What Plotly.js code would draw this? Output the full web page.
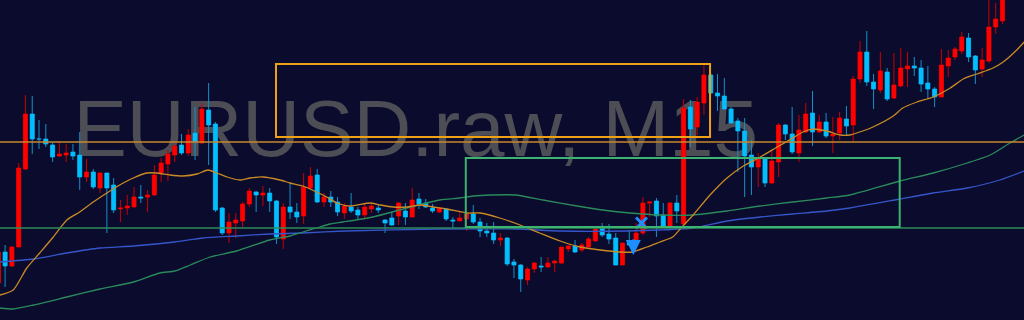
<!DOCTYPE html>
<html><head><meta charset="utf-8">
<script src="https://cdn.plot.ly/plotly-3.0.1.min.js"></script>
<style>html,body{margin:0;padding:0;background:#0b0b2d;}#chart{width:1024px;height:320px;}</style>
</head><body><div id="chart"></div>
<script>
const watermark = 'EURUSD.raw, M15';

const open = [
1.08037,1.08068,1.08054,1.08073,1.08151,1.08206,1.08181,1.08181,1.08175,1.08164,
1.08165,1.08168,1.08165,1.08143,1.08148,1.08132,1.08147,1.08135,1.08111,1.08112,
1.08113,1.08123,1.08123,1.08125,1.08147,1.08156,1.08165,1.08175,1.08167,1.08187,
1.08177,1.08210,1.08196,1.08112,1.08087,1.08097,1.08099,1.08116,1.08128,1.08125,
1.08127,1.08119,1.08081,1.08113,1.08108,1.08104,1.08132,1.08145,1.08118,1.08123,
1.08118,1.08107,1.08113,1.08110,1.08105,1.08111,1.08112,1.08100,1.08102,1.08104,
1.08109,1.08103,1.08121,1.08117,1.08112,1.08108,1.08111,1.08100,1.08099,1.08101,
1.08106,1.08098,1.08089,1.08087,1.08080,1.08082,1.08058,1.08055,1.08040,1.08051,
1.08054,1.08053,1.08057,1.08057,1.08071,1.08074,1.08070,1.08073,1.08079,1.08092,
1.08086,1.08082,1.08055,1.08079,1.08078,1.08087,1.08117,1.08119,1.08105,1.08094,
1.08117,1.08096,1.08213,1.08193,1.08217,1.08245,1.08227,1.08224,1.08211,1.08199,
1.08189,1.08165,1.08153,1.08161,1.08137,1.08158,1.08195,1.08186,1.08167,1.08188,
1.08207,1.08188,1.08198,1.08184,1.08187,1.08201,1.08195,1.08241,1.08268,1.08238,
1.08230,1.08248,1.08222,1.08234,1.08251,1.08254,1.08252,1.08237,1.08231,1.08223,
1.08254,1.08263,1.08269,1.08282,1.08264,1.08251,1.08259,1.08293,1.08299];

const high = [
1.08070,1.08075,1.08074,1.08157,1.08225,1.08224,1.08200,1.08196,1.08177,1.08178,
1.08176,1.08176,1.08188,1.08161,1.08151,1.08148,1.08147,1.08142,1.08120,1.08125,
1.08133,1.08135,1.08130,1.08155,1.08162,1.08170,1.08175,1.08186,1.08191,1.08213,
1.08217,1.08237,1.08198,1.08113,1.08107,1.08107,1.08118,1.08132,1.08129,1.08134,
1.08132,1.08120,1.08117,1.08137,1.08117,1.08147,1.08153,1.08151,1.08127,1.08129,
1.08123,1.08117,1.08127,1.08113,1.08117,1.08117,1.08115,1.08101,1.08108,1.08118,
1.08117,1.08132,1.08127,1.08121,1.08116,1.08113,1.08112,1.08103,1.08108,1.08108,
1.08115,1.08102,1.08097,1.08098,1.08087,1.08083,1.08061,1.08056,1.08053,1.08058,
1.08063,1.08063,1.08060,1.08073,1.08075,1.08080,1.08077,1.08083,1.08093,1.08097,
1.08096,1.08087,1.08077,1.08090,1.08097,1.08123,1.08119,1.08122,1.08117,1.08118,
1.08125,1.08221,1.08220,1.08223,1.08255,1.08247,1.08246,1.08242,1.08213,1.08202,
1.08202,1.08180,1.08167,1.08162,1.08171,1.08197,1.08196,1.08213,1.08205,1.08217,
1.08229,1.08205,1.08207,1.08203,1.08208,1.08214,1.08244,1.08279,1.08289,1.08246,
1.08268,1.08252,1.08267,1.08272,1.08268,1.08263,1.08260,1.08254,1.08233,1.08271,
1.08270,1.08273,1.08288,1.08287,1.08265,1.08272,1.08325,1.08317,1.08330];

const low = [
1.08032,1.08033,1.08053,1.08073,1.08150,1.08166,1.08171,1.08173,1.08158,1.08163,
1.08158,1.08160,1.08130,1.08138,1.08131,1.08127,1.08087,1.08107,1.08098,1.08105,
1.08113,1.08117,1.08108,1.08124,1.08138,1.08139,1.08158,1.08165,1.08164,1.08160,
1.08176,1.08155,1.08108,1.08085,1.08077,1.08082,1.08093,1.08113,1.08108,1.08114,
1.08108,1.08076,1.08071,1.08101,1.08097,1.08096,1.08130,1.08117,1.08113,1.08113,
1.08104,1.08101,1.08107,1.08101,1.08101,1.08107,1.08107,1.08087,1.08094,1.08095,
1.08095,1.08103,1.08111,1.08112,1.08107,1.08107,1.08099,1.08092,1.08099,1.08089,
1.08096,1.08083,1.08083,1.08076,1.08074,1.08054,1.08042,1.08028,1.08035,1.08047,
1.08048,1.08052,1.08048,1.08056,1.08068,1.08067,1.08068,1.08072,1.08078,1.08083,
1.08076,1.08055,1.08055,1.08075,1.08078,1.08085,1.08103,1.08083,1.08093,1.08093,
1.08097,1.08094,1.08173,1.08185,1.08205,1.08226,1.08209,1.08210,1.08196,1.08148,
1.08123,1.08125,1.08133,1.08133,1.08136,1.08143,1.08180,1.08166,1.08158,1.08187,
1.08174,1.08187,1.08182,1.08167,1.08180,1.08185,1.08178,1.08237,1.08234,1.08211,
1.08227,1.08219,1.08221,1.08233,1.08233,1.08244,1.08228,1.08221,1.08213,1.08223,
1.08243,1.08260,1.08266,1.08258,1.08236,1.08243,1.08257,1.08286,1.08296];

const close = [
1.08068,1.08054,1.08073,1.08152,1.08206,1.08181,1.08181,1.08176,1.08163,1.08166,
1.08167,1.08164,1.08143,1.08148,1.08133,1.08147,1.08132,1.08110,1.08112,1.08114,
1.08123,1.08122,1.08125,1.08145,1.08157,1.08166,1.08174,1.08167,1.08185,1.08178,
1.08211,1.08195,1.08110,1.08087,1.08098,1.08100,1.08116,1.08129,1.08125,1.08127,
1.08119,1.08083,1.08113,1.08108,1.08103,1.08133,1.08144,1.08118,1.08123,1.08118,
1.08108,1.08114,1.08109,1.08105,1.08113,1.08114,1.08110,1.08097,1.08095,1.08117,
1.08103,1.08120,1.08116,1.08113,1.08109,1.08112,1.08101,1.08099,1.08102,1.08106,
1.08098,1.08089,1.08087,1.08080,1.08082,1.08056,1.08055,1.08041,1.08051,1.08057,
1.08053,1.08057,1.08059,1.08073,1.08074,1.08068,1.08075,1.08081,1.08091,1.08085,
1.08081,1.08055,1.08077,1.08075,1.08087,1.08117,1.08118,1.08104,1.08094,1.08117,
1.08109,1.08212,1.08191,1.08218,1.08245,1.08227,1.08224,1.08211,1.08197,1.08189,
1.08164,1.08153,1.08161,1.08137,1.08159,1.08195,1.08186,1.08168,1.08190,1.08206,
1.08188,1.08198,1.08184,1.08186,1.08202,1.08194,1.08241,1.08268,1.08238,1.08231,
1.08249,1.08221,1.08235,1.08252,1.08254,1.08252,1.08236,1.08231,1.08223,1.08255,
1.08262,1.08271,1.08283,1.08263,1.08250,1.08260,1.08293,1.08301,1.08325];

// moving averages (bar index, price)
const maFastIdx = [0.25,2.2,4.2,6.1,8.1,10.1,12,14,16,17.9,19.9,21.9,23.3,25.3,27.2,29.3,30.9,32.2,33.7,35.6,37.1,39,41.5,43,44.9,46.9,48.4,49.9,51.8,54.8,56.3,58.2,60.2,62.2,64.1,66.1,69.1,71,73.9,76.9,79.8,82.8,85.7,88.7,91.6,93.5,95.6,97.5,99.4,100.5,102.4,104.9,107.4,109.8,112.3,114.8,117.1,118.6,120.1,122.1,124.1,125.5,127.4,128.9,131.9,133.3,135.4,137.8,140.3,142.2,144.2,146.6,148.1,150.1,151.2];
const maFast = [1.08025,1.08030,1.08052,1.08067,1.08083,1.08100,1.08108,1.08118,1.08127,1.08135,
1.08142,1.08147,1.08147,1.08145,1.08144,1.08146,1.08150,1.08147,1.08143,1.08140,
1.08142,1.08143,1.08140,1.08137,1.08134,1.08128,1.08123,1.08117,1.08114,1.08117,
1.08115,1.08113,1.08113,1.08115,1.08113,1.08111,1.08107,1.08107,1.08102,1.08095,
1.08087,1.08079,1.08073,1.08070,1.08068,1.08068,1.08073,1.08078,1.08083,1.08091,
1.08105,1.08125,1.08142,1.08154,1.08163,1.08173,1.08182,1.08188,1.08191,1.08189,
1.08185,1.08185,1.08189,1.08193,1.08204,1.08212,1.08218,1.08223,1.08232,1.08241,
1.08246,1.08252,1.08258,1.08270,1.08278];

const maMidIdx = [0.25,2.2,5.2,10.1,15,19.9,23.8,26,28.3,31.2,35.1,40,43,44.9,46.9,48.9,50.8,55.2,60.2,65.1,68,70,72.5,76.2,80.3,85.3,90.2,95,97.5,102.4,107.4,112.3,117.1,122.1,125.5,132.9,137.8,142.8,146.2,149.1,151.2];
const maMid = [1.08012,1.08011,1.08015,1.08023,1.08031,1.08038,1.08047,1.08049,1.08055,1.08063,
1.08069,1.08080,1.08084,1.08088,1.08092,1.08096,1.08098,1.08103,1.08112,1.08120,
1.08122,1.08124,1.08125,1.08125,1.08120,1.08114,1.08109,1.08106,1.08105,1.08105,
1.08109,1.08114,1.08118,1.08122,1.08125,1.08139,1.08147,1.08157,1.08165,1.08177,1.08185];

const maSlowIdx = [0.25,5.2,10.1,15,19.9,26,30.2,35.2,40,44.9,51.1,65.1,76.2,82.8,92.7,97.5,102.4,107.4,112.3,117.1,122.1,125.5,132.9,137.8,142.8,147.6,151.2];
const maSlow = [1.08058,1.08061,1.08067,1.08072,1.08074,1.08078,1.08082,1.08084,1.08086,1.08087,
1.08089,1.08091,1.08091,1.08089,1.08089,1.08090,1.08092,1.08099,1.08103,1.08106,
1.08109,1.08112,1.08121,1.08127,1.08132,1.08140,1.08149];

// drawn objects (bar index / price)
const zoneOrange = {x: [40.93, 104.9], y: [1.08183, 1.08256]};
const zoneGreen  = {x: [68.9, 132.85], y: [1.08093, 1.08162]};
const levelOrange = 1.08178;
const levelGreen  = 1.08092;
const crossMark = {x: [94.8], y: [1.08097]};
const arrowMark = {x: 93.6, y: 1.08065};

const idx = open.map((_, i) => i);
const bodyHigh = open.map((o, i) => Math.max(o, close[i]));
const bodyLow  = open.map((o, i) => Math.min(o, close[i]));

const data = [
  {type:'candlestick', x: idx, open, high, low, close, whiskerwidth:0, hoverinfo:'skip', showlegend:false,
   increasing:{line:{color:'#c80000', width:1}, fillcolor:'#ff0000'},
   decreasing:{line:{color:'#1490c8', width:1}, fillcolor:'#00bfff'}},
  {type:'candlestick', x: idx, open, high: bodyHigh, low: bodyLow, close, whiskerwidth:0, hoverinfo:'skip', showlegend:false,
   increasing:{line:{color:'#ff0000', width:0}, fillcolor:'#ff0000'},
   decreasing:{line:{color:'#00bfff', width:0}, fillcolor:'#00bfff'}},
  {type:'scatter', mode:'lines', x: maSlowIdx, y: maSlow, line:{color:'#3556c8', width:1.3, shape:'spline', smoothing:0.6}, hoverinfo:'skip'},
  {type:'scatter', mode:'lines', x: maMidIdx, y: maMid, line:{color:'#2b8a5c', width:1.3, shape:'spline', smoothing:0.6}, hoverinfo:'skip'},
  {type:'scatter', mode:'lines', x: maFastIdx, y: maFast, line:{color:'#c98a25', width:1.3, shape:'spline', smoothing:0.6}, hoverinfo:'skip'},
  {type:'scatter', mode:'markers', x: crossMark.x, y: crossMark.y, marker:{symbol:'x-thin', size:11, line:{width:3, color:'#1e8fff'}}, hoverinfo:'skip'}
];

const layout = {
  width:1024, height:320, margin:{l:0,r:0,t:0,b:0,pad:0},
  paper_bgcolor:'#0b0b2d', plot_bgcolor:'#0b0b2d', showlegend:false,
  boxgap:0.4, boxgroupgap:0,
  xaxis:{range:[0.2506, 151.17], showgrid:false, zeroline:false, showticklabels:false, ticks:'', showline:false, rangeslider:{visible:false}, fixedrange:true},
  yaxis:{range:[1.08000, 1.08320], showgrid:false, zeroline:false, showticklabels:false, ticks:'', showline:false, fixedrange:true},
  shapes:[
    {type:'rect', xref:'paper', yref:'paper', x0:0.106, x1:0.706, y0:0.46875, y1:0.78125, layer:'below',
     line:{width:0}, fillcolor:'rgba(0,0,0,0)',
     label:{text: watermark, textposition:'middle center', font:{family:'Liberation Sans, Arial, sans-serif', size:80, color:'#4d4d55'}}},
    {type:'line', xref:'paper', x0:0, x1:1, y0:levelOrange, y1:levelOrange, line:{color:'#c8872a', width:1.5}},
    {type:'line', xref:'paper', x0:0, x1:1, y0:levelGreen, y1:levelGreen, line:{color:'#2e8b57', width:1.5}},
    {type:'rect', x0:zoneOrange.x[0], x1:zoneOrange.x[1], y0:zoneOrange.y[0], y1:zoneOrange.y[1], line:{color:'#f0a014', width:2}},
    {type:'rect', x0:zoneGreen.x[0], x1:zoneGreen.x[1], y0:zoneGreen.y[0], y1:zoneGreen.y[1], line:{color:'#3cb371', width:2}}
  ],
  annotations:[
    {x: arrowMark.x, y: arrowMark.y, text:'', showarrow:true, ax:0, ay:-17, arrowhead:2, arrowsize:1, arrowwidth:3, arrowcolor:'#1e8fff'}
  ]
};

Plotly.newPlot('chart', data, layout, {staticPlot:true, displayModeBar:false});
</script>
</body></html>
